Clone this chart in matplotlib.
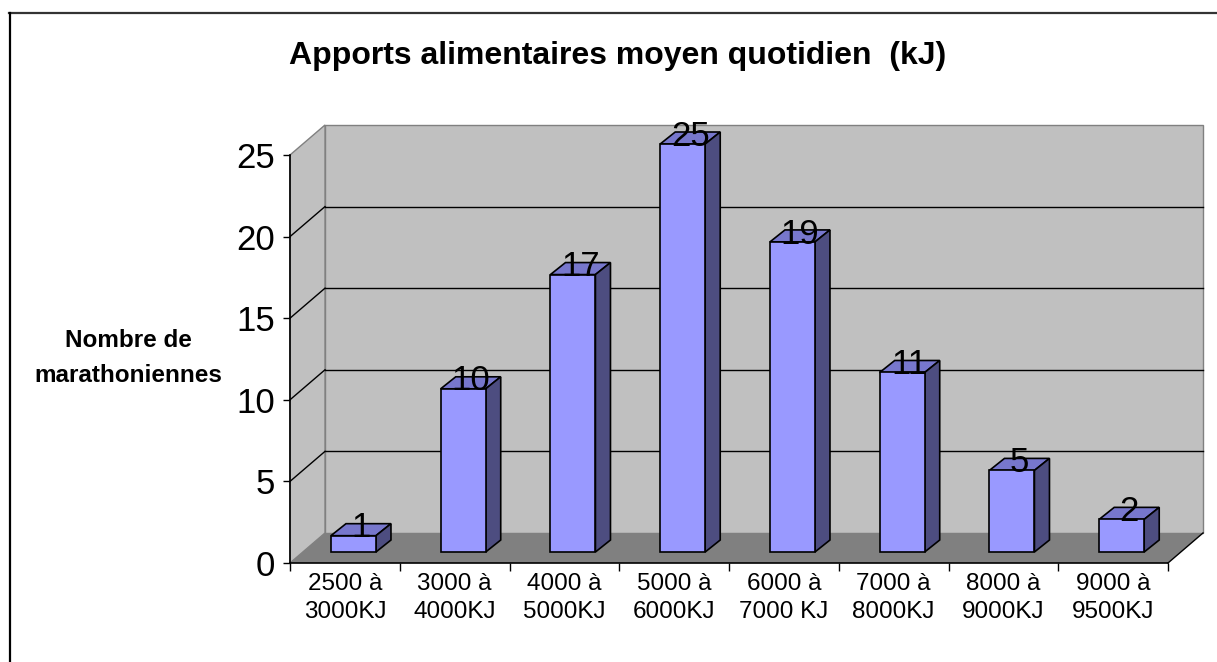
import numpy as np
import matplotlib.pyplot as plt
from matplotlib.patches import Polygon
from matplotlib.lines import Line2D

categories = ["2500 à\n3000KJ", "3000 à\n4000KJ", "4000 à\n5000KJ", "5000 à\n6000KJ",
              "6000 à\n7000 KJ", "7000 à\n8000KJ", "8000 à\n9000KJ", "9000 à\n9500KJ"]
counts = [1, 10, 17, 25, 19, 11, 5, 2]
yticks = [0, 5, 10, 15, 20, 25]

plt.rcParams['font.family'] = ['Liberation Sans', 'DejaVu Sans']

W, H = 1217, 662
fig = plt.figure(figsize=(W / 100, H / 100), dpi=100)
ax = fig.add_axes([290 / W, 99 / H, 878 / W, 408 / H])
ax.set_xlim(-0.5, 7.5)
ax.set_ylim(0, 25)
ax.patch.set_visible(False)

# depth of the fake 3d box, in data units
DX, DY = 0.319, 1.84
x = np.arange(len(counts))
x0, x1 = -0.5, len(counts) - 0.5
top = yticks[-1]

# walls and floor
ax.add_patch(Polygon([(x0 + DX, DY), (x1 + DX, DY), (x1 + DX, top + DY), (x0 + DX, top + DY)],
                     facecolor='#c0c0c0', edgecolor='#808080', lw=1, clip_on=False, zorder=0))
ax.add_patch(Polygon([(x0, 0), (x0 + DX, DY), (x0 + DX, top + DY), (x0, top)],
                     facecolor='#c0c0c0', edgecolor='#808080', lw=1, clip_on=False, zorder=0))
ax.add_patch(Polygon([(x0, 0), (x1, 0), (x1 + DX, DY), (x0 + DX, DY)],
                     facecolor='#808080', edgecolor='none', clip_on=False, zorder=0.5))
ax.plot([x1, x1 + DX], [0, DY], color='black', lw=1, clip_on=False, zorder=0.6)

for v in yticks[1:-1]:
    ax.plot([x0 + DX, x1 + DX], [v + DY, v + DY], color='black', lw=1, clip_on=False, zorder=0.4)
    ax.plot([x0, x0 + DX], [v, v + DY], color='black', lw=1, clip_on=False, zorder=0.4)

# bars
bw = 0.41
front = 0.674   # front face sits a bit behind the front edge
sdx, sdy = 0.137, 0.735
xc = x + 0.078
bars = ax.bar(xc, counts, width=bw, bottom=front, color='#9999ff', edgecolor='black',
              lw=1.2, zorder=3)
for b in bars:
    b.set_clip_on(False)
for xi, h in zip(xc, counts):
    l, r = xi - bw / 2, xi + bw / 2
    ht = h + front
    ax.add_patch(Polygon([(l, ht), (r, ht), (r + sdx, ht + sdy), (l + sdx, ht + sdy)],
                         facecolor='#7777cc', edgecolor='black', lw=1.2, zorder=2.5, clip_on=False))
    ax.add_patch(Polygon([(r, front), (r + sdx, front + sdy), (r + sdx, ht + sdy), (r, ht)],
                         facecolor='#4d4d80', edgecolor='black', lw=1.2, zorder=2.5, clip_on=False))
    ax.text(xi + sdx / 2, ht - 0.1, str(h), ha='center', va='baseline', fontsize=25,
            zorder=5, clip_on=False)

# axes
for s in ['top', 'right']:
    ax.spines[s].set_visible(False)
ax.spines['left'].set_linewidth(1.2)
ax.spines['bottom'].set_linewidth(1.2)
ax.set_yticks(yticks)
ax.set_yticklabels([str(v) for v in yticks], fontsize=25)
ax.tick_params(axis='y', length=5, width=1, pad=6)
ax.set_xticks(x)
ax.set_xticklabels(categories, fontsize=17.5, linespacing=1.35)
ax.set_xticks(np.arange(x0, x1 + 0.5, 1), minor=True)
ax.tick_params(axis='x', which='major', length=0, pad=7)
ax.tick_params(axis='x', which='minor', length=5.5, width=1)

fig.text(128 / W, 1 - 347 / H, "Nombre de", ha='center', va='baseline',
         fontsize=17.5, fontweight='bold')
fig.text(128 / W, 1 - 382 / H, "marathoniennes", ha='center', va='baseline',
         fontsize=17.5, fontweight='bold')
fig.text(618 / W, 1 - 64 / H, "Apports alimentaires moyen quotidien  (kJ)", ha='center',
         va='baseline', fontsize=23, fontweight='bold')

# outer chart border (top and left only visible)
fig.add_artist(Line2D([9 / W, 1], [1 - 12.5 / H, 1 - 12.5 / H], color='#333333', lw=1.6))
fig.add_artist(Line2D([9.5 / W, 9.5 / W], [0, 1 - 12.5 / H], color='black', lw=1.6))

fig.savefig('out.png', dpi=100)
